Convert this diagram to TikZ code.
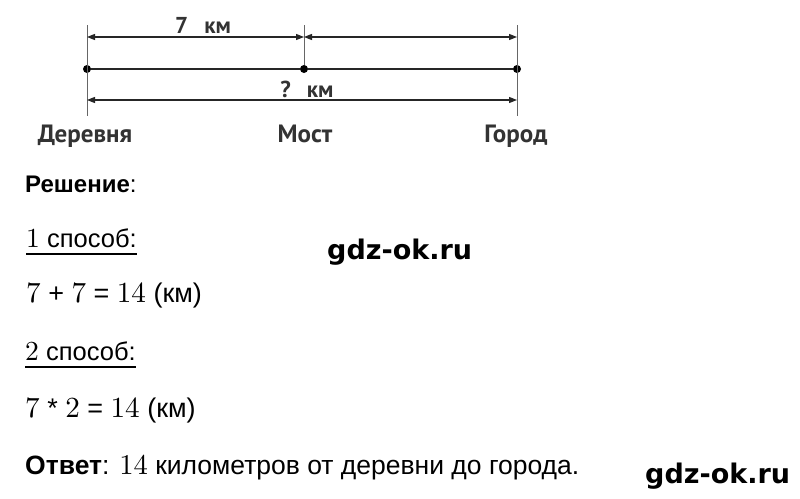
\documentclass[tikz,border=0pt]{standalone}
\usepackage{fontspec}
\setmainfont{Liberation Sans}
\newfontfamily\schemefont{PT Sans}
\newfontfamily\markfont{DejaVu Sans}
\newfontfamily\digitfont[Scale=1.08]{lmroman10-regular.otf}
\newcommand{\dg}[1]{{\digitfont #1}}
\usetikzlibrary{arrows.meta}
\usetikzlibrary{positioning}

\begin{document}
\begin{tikzpicture}
		[
		x=1pt, y=-1pt,
		line cap=butt
		]
		
		% Page size and background
		\useasboundingbox[fill=white] (0,0) rectangle (800,498);
		
		% Styles of the scheme
		\tikzstyle{point}=[circle,fill=black,inner sep=0pt,minimum size=8pt];
		\tikzstyle{road}=[line width=1.9pt,black!85];
		\tikzstyle{tick}=[line width=0.9pt,black!60];
		\tikzstyle{dist}=[{Triangle[length=8pt,width=6pt]}-{Triangle[length=8pt,width=6pt]},line width=1.2pt,black!85];
		\tikzstyle{dist label}=[anchor=base,inner sep=0,text=black!80,font=\schemefont\bfseries\fontsize{23}{23}\selectfont];
		\tikzstyle{place}=[anchor=base,inner sep=0,text=black!80,font=\schemefont\bfseries\fontsize{25}{25}\selectfont];
		
		% Styles of the solution text
		\tikzstyle{text row}=[anchor=base west,inner sep=0,font=\fontsize{25.5}{25.5}\selectfont];
		\tikzstyle{calc row}=[anchor=base west,inner sep=0,font=\fontsize{27}{27}\selectfont];
		\tikzstyle{underline}=[line width=1.6pt];
		\tikzstyle{watermark}=[anchor=base west,inner sep=0,font=\markfont\bfseries\fontsize{27}{27}\selectfont];
		
		% The road
		\node[point] (village) at (87,69) {};
		\node[point] (bridge) at (304,69) {};
		\node[point] (city) at (517,69) {};
		\draw[road] (village) -- (bridge) -- (city);
		
		% Marks
		\coordinate (top) at (0,25);
		\coordinate (foot) at (0,116);
		\coordinate (upper) at (0,37);
		\coordinate (lower) at (0,100);
		\draw[tick] (village |- top) -- (village |- foot);
		\draw[tick] (bridge |- top) -- (bridge);
		\draw[tick] (city |- top) -- (city |- foot);
		
		% Distances
		\draw[dist] (village |- upper) -- (bridge |- upper);
		\draw[dist] (bridge |- upper) -- (city |- upper);
		\draw[dist] (village |- lower) -- (city |- lower);
		\node[dist label] (seven) at (203,33) {7\hspace{0.7em}км};
		\node[dist label] (total) at (307,97) {?\hspace{0.7em}км};
		
		% Places
		\node[place] (village name) at (85,142) {Деревня};
		\node[place] (bridge name) at (305,142) {Мост};
		\node[place] (city name) at (516,142) {Город};
		
		% Solution
		\node[text row,font=\fontsize{24}{24}\selectfont] (solution) at (25,192) {\textbf{Решение}:};
		\node[text row] (way one) at (26,247) {\dg{1} способ:};
		\draw[underline] ([yshift=-7pt]way one.base west) -- ([yshift=-7pt]way one.base east);
		\node[calc row] (sum) at (26,302) {\dg{7} + \dg{7} = \dg{14} (км)};
		\node[text row] (way two) at (25,360) {\dg{2} способ:};
		\draw[underline] ([yshift=-7pt]way two.base west) -- ([yshift=-7pt]way two.base east);
		\node[calc row] (product) at (25,417) {\dg{7} * \dg{2} = \dg{14} (км)};
		\node[text row,font=\fontsize{26.5}{26.5}\selectfont] (answer) at (25,474) {\textbf{Ответ}: \dg{14} километров от деревни до города.};
		
		% Watermarks
		\node[watermark] (mark one) at (327,259) {gdz-ok.ru};
		\node[watermark] (mark two) at (645,483) {gdz-ok.ru};
		\end{tikzpicture}
\end{document}
